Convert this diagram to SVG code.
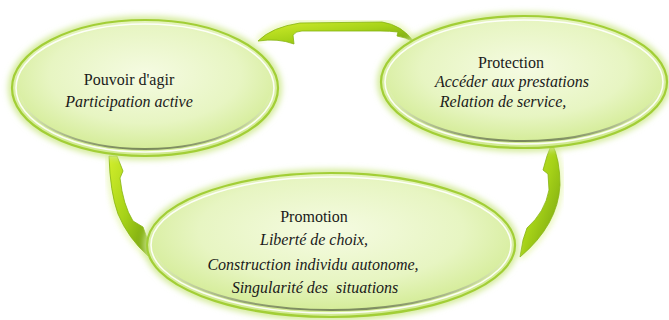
<svg xmlns="http://www.w3.org/2000/svg" width="669" height="320" viewBox="0 0 669 320">
<defs>
<radialGradient id="fillG" cx="0.5" cy="0.4" r="0.6">
<stop offset="0" stop-color="#f5fbe2"/>
<stop offset="0.6" stop-color="#e7f5c2"/>
<stop offset="1" stop-color="#d0ea8e"/>
</radialGradient>
<linearGradient id="shadeG" x1="0" y1="0" x2="0" y2="1">
<stop offset="0" stop-color="#ffffff" stop-opacity="0"/>
<stop offset="0.55" stop-color="#ffffff" stop-opacity="0"/>
<stop offset="1" stop-color="#6f7d55" stop-opacity="0.9"/>
</linearGradient>
<linearGradient id="arrG" x1="0" y1="0" x2="1" y2="1">
<stop offset="0" stop-color="#d2ee2c"/>
<stop offset="0.5" stop-color="#a6d218"/>
<stop offset="1" stop-color="#6f9c0e"/>
</linearGradient>
<filter id="glow" x="-10%" y="-10%" width="120%" height="120%">
<feGaussianBlur stdDeviation="3"/>
</filter>
</defs>
<style>
.glow{fill:none;stroke:#cde88a;stroke-width:7;filter:url(#glow)}
.body{fill:url(#fillG);stroke:#a2ce36;stroke-width:2.2}
.hi{fill:none;stroke:#ffffff;stroke-width:1.6;opacity:0.9}
.shade{fill:none;stroke:url(#shadeG);stroke-width:2}
.arrow{fill:url(#arrG);stroke:#86b412;stroke-width:0.8}
.aglow{fill:none;stroke:#d6f07a;stroke-width:4;filter:url(#glow);opacity:0.8}
</style>
<rect width="669" height="320" fill="#ffffff"/>

<g id="connectors">
<path class="aglow" d="M258,41 Q272,27 300,23 L382,22 Q402,25 414,42"/>
<path class="aglow" d="M109,156 Q110,192 118,214 Q128,238 148,256"/>
<path class="aglow" d="M552,143 Q560,160 560,185 Q558,225 520,257"/>
<path class="arrow" d="M258,41 Q272,27 300,23 L382,22 Q402,25 414,42 Q405,37 397,36 L398,32 Q390,31 380,31 L302,31 Q296,31 293,35 L294,44 Q278,38 258,41 Z"/>
<path class="arrow" d="M109,156 L117,156 L123,171 L120,178 Q123,205 133,221 L143,227 L147,238 L148,256 Q128,238 118,214 Q110,192 109,156 Z"/>
<path class="arrow" d="M552,143 Q560,160 560,185 Q558,225 520,257 L523,240 L527,228 Q545,212 549,190 L548,174 L543,170 L547,156 Z"/>
</g>

<g id="node-pouvoir">
<ellipse class="glow" cx="145" cy="88" rx="133" ry="68"/>
<ellipse class="body" cx="145" cy="88" rx="133" ry="68"/>
<ellipse class="hi" cx="145" cy="88" rx="129" ry="64"/>
<ellipse class="shade" cx="145" cy="88" rx="126" ry="61"/>
<text x="129" y="85" font-family="Liberation Serif" font-size="16" fill="#1a1a1a" text-anchor="middle">Pouvoir d'agir</text>
<text x="129" y="107" font-family="Liberation Serif" font-size="16" font-style="italic" fill="#1a1a1a" text-anchor="middle">Participation active</text>
</g>

<g id="node-protection">
<ellipse class="glow" cx="524" cy="82" rx="143" ry="66"/>
<ellipse class="body" cx="524" cy="82" rx="143" ry="66"/>
<ellipse class="hi" cx="524" cy="82" rx="139" ry="62"/>
<ellipse class="shade" cx="524" cy="82" rx="136" ry="59"/>
<text x="511" y="68" font-family="Liberation Serif" font-size="16" fill="#1a1a1a" text-anchor="middle">Protection</text>
<text x="512" y="87" font-family="Liberation Serif" font-size="16" font-style="italic" fill="#1a1a1a" text-anchor="middle">Acc&#233;der aux prestations</text>
<text x="503" y="107" font-family="Liberation Serif" font-size="16" font-style="italic" fill="#1a1a1a" text-anchor="middle">Relation de service,</text>
</g>

<g id="node-promotion">
<ellipse class="glow" cx="331" cy="245" rx="184" ry="72"/>
<ellipse class="body" cx="331" cy="245" rx="184" ry="72"/>
<ellipse class="hi" cx="331" cy="245" rx="180" ry="68"/>
<ellipse class="shade" cx="331" cy="245" rx="177" ry="65"/>
<text x="314" y="222" font-family="Liberation Serif" font-size="16" fill="#1a1a1a" text-anchor="middle">Promotion</text>
<text x="314" y="245" font-family="Liberation Serif" font-size="16" font-style="italic" fill="#1a1a1a" text-anchor="middle">Libert&#233; de choix,</text>
<text x="313" y="270" font-family="Liberation Serif" font-size="16" font-style="italic" fill="#1a1a1a" text-anchor="middle">Construction individu autonome,</text>
<text x="315" y="293" font-family="Liberation Serif" font-size="16" font-style="italic" fill="#1a1a1a" text-anchor="middle">Singularit&#233; des&#160; situations</text>
</g>
</svg>
